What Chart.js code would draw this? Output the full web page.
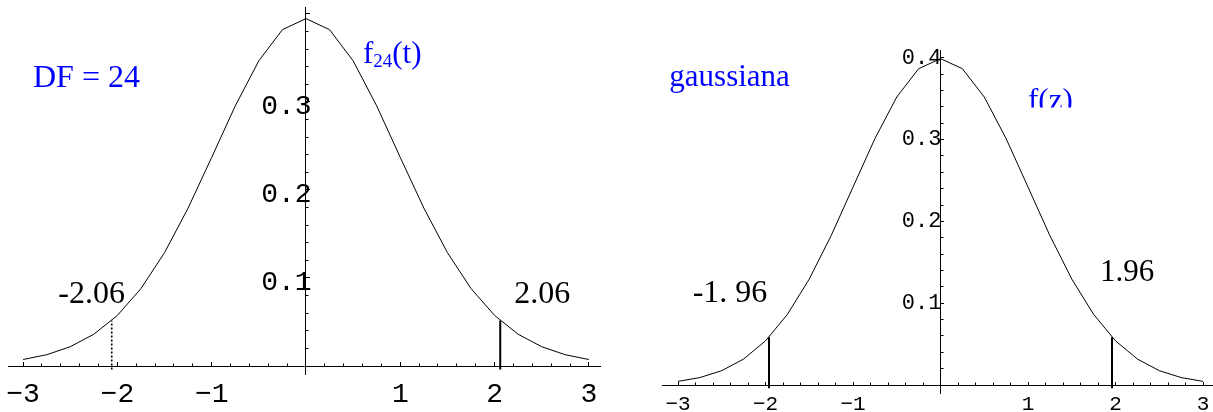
<!DOCTYPE html>
<html>
<head>
<meta charset="utf-8">
<script src="https://cdn.jsdelivr.net/npm/chart.js@4.4.1/dist/chart.umd.min.js"></script>
<style>
  html, body { margin: 0; background: #fff; }
  body { width: 1213px; height: 412px; position: relative; overflow: hidden; }
  canvas { position: absolute; top: 0; }
  #tPlot { left: 0; }
  #zPlot { left: 612px; }
</style>
</head>
<body>
<canvas id="tPlot" width="612" height="412"></canvas>
<canvas id="zPlot" width="601" height="412"></canvas>
<script>
// sample points shared by both densities
const xs = [-3, -2.75, -2.5, -2.25, -2, -1.75, -1.5, -1.25, -1, -0.75, -0.5, -0.25,
            0, 0.25, 0.5, 0.75, 1, 1.25, 1.5, 1.75, 2, 2.25, 2.5, 2.75, 3];

// Student t with 24 degrees of freedom
const tDensity = [0.00737, 0.01280, 0.02188, 0.03608, 0.05748, 0.08799, 0.12879, 0.17945,
                  0.23701, 0.29555, 0.34683, 0.38217, 0.39480, 0.38217, 0.34683, 0.29555,
                  0.23701, 0.17945, 0.12879, 0.08799, 0.05748, 0.03608, 0.02188, 0.01280, 0.00737];

// standard normal
const zDensity = [0.00443, 0.00909, 0.01753, 0.03174, 0.05399, 0.08628, 0.12952, 0.18265,
                  0.24197, 0.30114, 0.35207, 0.38667, 0.39894, 0.38667, 0.35207, 0.30114,
                  0.24197, 0.18265, 0.12952, 0.08628, 0.05399, 0.03174, 0.01753, 0.00909, 0.00443];

// critical values and the curve height there
const tCrit = [-2.06, 2.06];
const tCritHeight = [0.0516, 0.0516];
const tCritLabels = ['-2.06', '2.06'];
const zCrit = [-1.96, 1.96];
const zCritHeight = [0.0584, 0.0584];
const zCritLabels = ['-1. 96', '1.96'];

const xTickValues = [-3, -2, -1, 1, 2, 3];
const xTickLabels = ['\u22123', '\u22122', '\u22121', '1', '2', '3'];
const tYTickValues = [0.1, 0.2, 0.3];
const tYTickLabels = ['0.1', '0.2', '0.3'];
const zYTickValues = [0.1, 0.2, 0.3, 0.4];
const zYTickLabels = ['0.1', '0.2', '0.3', '0.4'];

const pick = (values, labels) => v => {
  const i = values.findIndex(t => Math.abs(t - v) < 1e-6);
  return i < 0 ? '' : labels[i];
};

const mono = size => ({ family: '"Liberation Mono", monospace', size });
const serif = '"Liberation Serif", "Times New Roman", serif';

// axes cross at the origin, Mathematica style: ticks point inward,
// minor ticks come from a second, label-less scale.
// Scales take no room of their own so the plot area is set by layout padding only.
const flatX = s => { s.height = 0; s.paddingLeft = 0; s.paddingRight = 0; };
const flatY = s => { s.width = 0; s.paddingTop = 0; s.paddingBottom = 0; };

function axes(o) {
  const base = { type: 'linear' };
  return {
    x: { ...base, axis: 'x', min: o.xMin, max: o.xMax, position: { y: 0 }, afterFit: flatX,
      ticks: { stepSize: 1, includeBounds: false, autoSkip: false, maxRotation: 0,
               font: mono(o.xFont), color: '#000', padding: o.xPad,
               callback: pick(xTickValues, xTickLabels) },
      grid: { drawOnChartArea: false, tickLength: -o.major, color: '#000' },
      border: { color: '#000', width: 1 } },
    xMinor: { ...base, axis: 'x', min: o.xMin, max: o.xMax, position: { y: 0 }, afterFit: flatX,
      ticks: { stepSize: 0.2, includeBounds: false, display: false },
      grid: { drawOnChartArea: false, tickLength: -o.minor, color: '#000' },
      border: { display: false } },
    y: { ...base, axis: 'y', min: o.yMin, max: o.yMax, position: { x: 0 }, afterFit: flatY,
      ticks: { stepSize: 0.1, includeBounds: false, display: false },
      grid: { drawOnChartArea: false, tickLength: -o.major, color: '#000' },
      border: { color: '#000', width: 1 } },
    yMinor: { ...base, axis: 'y', min: o.yMin, max: o.yMax, position: { x: 0 }, afterFit: flatY,
      ticks: { stepSize: 0.02, includeBounds: false, display: false },
      grid: { drawOnChartArea: false, tickLength: -o.minor, color: '#000' },
      border: { display: false } },
    yText: { ...base, axis: 'y', min: o.yMin, max: o.yMax, position: { x: o.labelX }, afterFit: flatY,
      ticks: { stepSize: 0.1, includeBounds: false, font: mono(o.yFont), color: '#000',
               labelOffset: o.yShift, callback: pick(o.yVals, o.yLabels) },
      grid: { display: false },
      border: { display: false } }
  };
}

// free text placed in data coordinates; parts allow a subscript
function textPlugin(items) {
  return {
    id: 'panelText',
    afterDatasetsDraw(chart) {
      const { ctx, scales: { x, y } } = chart;
      for (const it of items) {
        let px = x.getPixelForValue(it.x);
        const py = y.getPixelForValue(it.y);
        ctx.save();
        if (it.clipAbove !== undefined) {
          ctx.beginPath();
          ctx.rect(0, 0, chart.width, y.getPixelForValue(it.clipAbove));
          ctx.clip();
        }
        ctx.fillStyle = it.color || '#000';
        ctx.textAlign = 'left';
        ctx.textBaseline = 'alphabetic';
        for (const p of it.parts) {
          ctx.font = p.size + 'px ' + serif;
          ctx.fillText(p.text, px, py + (p.dy || 0));
          px += ctx.measureText(p.text).width;
        }
        ctx.restore();
      }
    }
  };
}

const curve = (vals) => ({
  data: xs.map((x, i) => ({ x, y: vals[i] })),
  borderColor: '#000', borderWidth: 1, xAxisID: 'x', yAxisID: 'y'
});
const stem = (x, h, width, dash) => ({
  data: [{ x, y: -0.004 }, { x, y: h }],
  borderColor: '#000', borderWidth: width, borderDash: dash || [], xAxisID: 'x', yAxisID: 'y'
});

const shared = {
  animation: false,
  responsive: false,
  devicePixelRatio: 1,
  elements: { point: { radius: 0 }, line: { tension: 0, fill: false } },
  plugins: { legend: { display: false }, tooltip: { enabled: false } }
};

const blue = '#0000ff';

new Chart(document.getElementById('tPlot'), {
  type: 'line',
  data: { datasets: [
    curve(tDensity),
    stem(tCrit[0], tCritHeight[0], 1.6, [2, 2]),
    stem(tCrit[1], tCritHeight[1], 2)
  ] },
  options: {
    ...shared,
    layout: { padding: { left: 8, right: 12, top: 7, bottom: 38 } },
    scales: axes({ xMin: -3.16, xMax: 3.118, yMin: -0.00909, yMax: 0.40795,
                   xFont: 28, xPad: 17, yFont: 28, yShift: 5, labelX: 0.06,
                   major: 5, minor: 2.5, yVals: tYTickValues, yLabels: tYTickLabels })
  },
  plugins: [textPlugin([
    { x: -2.895, y: 0.3176, color: blue, parts: [{ text: 'DF = 24', size: 32 }] },
    { x: 0.604, y: 0.344, color: blue, parts: [
      { text: 'f', size: 31 }, { text: '24', size: 19, dy: 4 }, { text: '(t)', size: 31 }] },
    { x: -2.627, y: 0.0713, parts: [{ text: tCritLabels[0], size: 32 }] },
    { x: 2.209, y: 0.0713, parts: [{ text: tCritLabels[1], size: 32 }] }
  ])]
});

new Chart(document.getElementById('zPlot'), {
  type: 'line',
  data: { datasets: [
    curve(zDensity),
    stem(zCrit[0], zCritHeight[0], 2),
    stem(zCrit[1], zCritHeight[1], 2)
  ] },
  options: {
    ...shared,
    layout: { padding: { left: 50, right: 0, top: 50, bottom: 19 } },
    scales: axes({ xMin: -3.183, xMax: 3.114, yMin: -0.00978, yMax: 0.40954,
                   xFont: 21, xPad: 11, yFont: 22, yShift: 0, labelX: 0.01,
                   major: 4, minor: 2.5, yVals: zYTickValues, yLabels: zYTickLabels })
  },
  plugins: [textPlugin([
    { x: -3.099, y: 0.3655, color: blue, parts: [{ text: 'gaussiana', size: 31 }] },
    { x: 1.0, y: 0.3362, color: blue, clipAbove: 0.3392, parts: [{ text: 'f(z)', size: 31 }] },
    { x: -2.832, y: 0.1018, parts: [{ text: zCritLabels[0], size: 32 }] },
    { x: 1.823, y: 0.1271, parts: [{ text: zCritLabels[1], size: 31 }] }
  ])]
});
</script>
</body>
</html>
